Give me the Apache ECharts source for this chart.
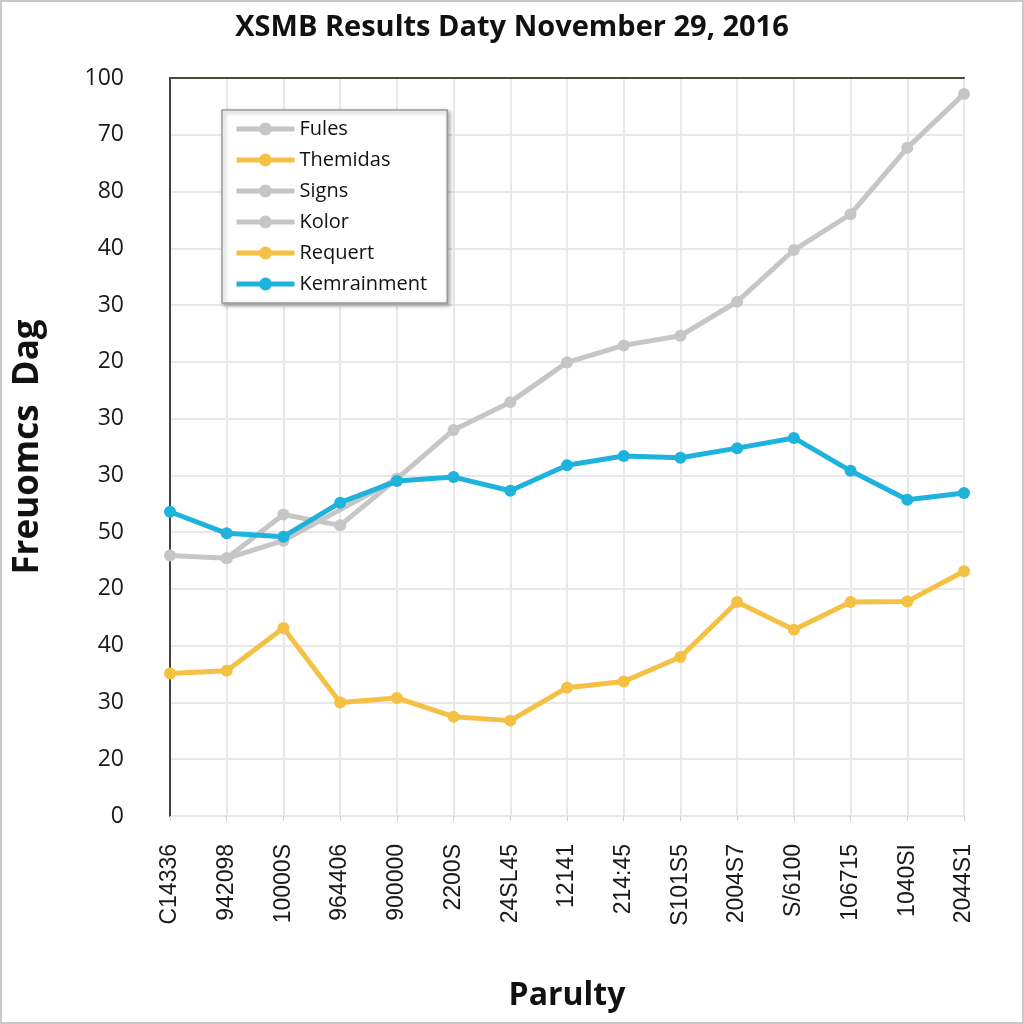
<!DOCTYPE html>
<html>
<head>
<meta charset="utf-8">
<script src="https://cdn.jsdelivr.net/npm/echarts@6/dist/echarts.min.js"></script>
<style>
html,body{margin:0;padding:0;background:#fff;}
#chart{width:1024px;height:1024px;box-sizing:border-box;border:2px solid #c8c8c8;}
</style>
</head>
<body>
<div id="chart"></div>
<script>
var categories = ['C14336','942098','10000S','964406','900000','2200S','24SL45','12141','214:45','S101S5','2004S7','S/6100','106715','1040SI','2044S1'];
var yTickLabels = ['0','20','30','40','20','50','30','30','20','30','40','80','70','100'];
var fules = [45.9,45.4,53.1,51.2,59.4,68.0,72.9,79.9,82.9,84.6,90.6,99.7,106.0,117.7,127.2];
var signs = [];
var kolor = [null,45.4,48.5,null,59.4,null,null,null,null,null,null,null,null,null,null];
var themidas = [25.1,25.6,33.1,20.0,20.8,17.5,16.8,22.6,23.7,28.0,37.7,32.8,37.7,37.8,43.1];
var requert = [];
var kemrainment = [53.6,49.8,49.2,55.2,59.0,59.7,57.3,61.8,63.4,63.1,64.8,66.6,60.8,55.7,56.9];

var GRAY = '#c6c6c6', YEL = '#f4c145', BLUE = '#1eb3dd';
function ser(name, data, color, z) {
  return {
    name: name, type: 'line', data: data, color: color, z: z,
    connectNulls: true, symbol: 'circle', symbolSize: 12,
    lineStyle: {width: 5, color: color}, itemStyle: {color: color}
  };
}
var chart = echarts.init(document.getElementById('chart'));
chart.setOption({
  animation: false,
  backgroundColor: '#fff',
  title: {
    text: 'XSMB Results Daty November 29, 2016', left: 'center', top: 6,
    textStyle: {fontFamily: 'Open Sans', fontWeight: 'bold', fontSize: 29, color: '#111'}
  },
  legend: {
    orient: 'vertical', left: 220, top: 108,
    padding: [9, 20, 9, 12], itemGap: 11, itemWidth: 58, itemHeight: 16,
    backgroundColor: '#fff', borderColor: '#9a9a9a', borderWidth: 1.5,
    shadowColor: 'rgba(0,0,0,0.35)', shadowBlur: 4, shadowOffsetX: 2, shadowOffsetY: 2,
    lineStyle: {width: 5},
    textStyle: {fontFamily: 'Open Sans', fontSize: 20, color: '#111'},
    data: ['Fules','Themidas','Signs','Kolor','Requert','Kemrainment']
  },
  grid: {left: 168, right: 58, top: 76, bottom: 206},
  xAxis: [{
    type: 'category', data: categories, boundaryGap: false, offset: 12,
    axisLine: {show: false},
    axisTick: {show: true, length: 5, alignWithLabel: true, lineStyle: {color: '#cfcfcf'}},
    axisLabel: {rotate: 90, margin: 16, fontFamily: 'Liberation Sans', fontSize: 23, color: '#1a1a1a', interval: 0},
    splitLine: {show: true, lineStyle: {color: '#e8e8e8', width: 2}},
    name: 'Parulty', nameLocation: 'middle', nameGap: 152,
    nameTextStyle: {fontFamily: 'Open Sans', fontWeight: 'bold', fontSize: 32, color: '#111'}
  }, {
    type: 'category', data: categories, boundaryGap: false, position: 'top',
    axisLine: {show: true, lineStyle: {color: '#4a4a3a', width: 2}},
    axisTick: {show: false}, axisLabel: {show: false}, splitLine: {show: false}
  }],
  yAxis: {
    type: 'value', min: 0, max: 130, interval: 10,
    axisLine: {show: true, lineStyle: {color: '#444', width: 2}},
    axisTick: {show: false},
    axisLabel: {margin: 46, fontFamily: 'Open Sans', fontSize: 23, color: '#1a1a1a',
      formatter: function (v) { return yTickLabels[Math.round(v / 10)]; }},
    splitLine: {show: true, lineStyle: {color: '#e8e8e8', width: 2}},
    name: 'Freuomcs  Dag', nameLocation: 'middle', nameGap: 124,
    nameTextStyle: {fontFamily: 'Open Sans', fontWeight: 'bold', fontSize: 35, color: '#111'}
  },
  series: [
    ser('Fules', fules, GRAY, 3),
    ser('Themidas', themidas, YEL, 4),
    ser('Signs', signs, GRAY, 2),
    ser('Kolor', kolor, GRAY, 3),
    ser('Requert', requert, YEL, 2),
    ser('Kemrainment', kemrainment, BLUE, 5)
  ]
});
</script>
</body>
</html>
